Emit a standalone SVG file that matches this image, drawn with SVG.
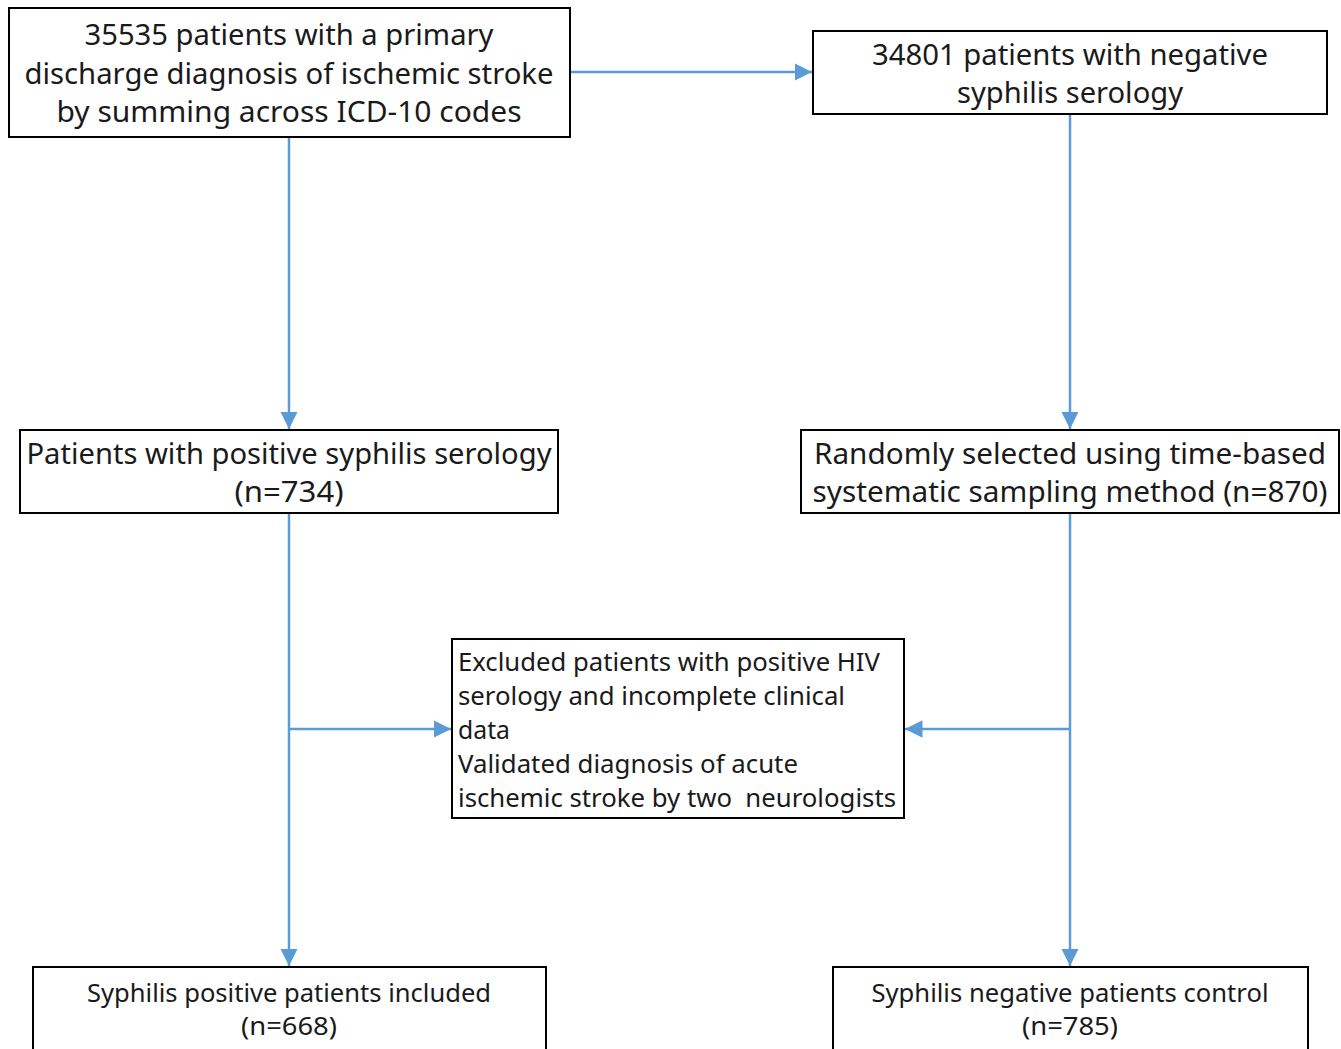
<svg xmlns="http://www.w3.org/2000/svg" width="1341" height="1049" viewBox="0 0 1341 1049">
<style>
.box{fill:#fff;stroke:#000;stroke-width:2}
.t{font-family:"Noto Sans","DejaVu Sans",sans-serif;font-size:29px;fill:#1a1a1a;text-anchor:middle}
.s{font-family:"Noto Sans","DejaVu Sans",sans-serif;font-size:26px;fill:#1a1a1a}
.c{fill:none;stroke:#5B9BD5;stroke-width:2.5}
</style>
<defs>
<marker id="ah" viewBox="0 0 10 10" refX="10" refY="5" markerWidth="7" markerHeight="7" markerUnits="strokeWidth" orient="auto">
<path d="M0,0 L10,5 L0,10 z" fill="#5B9BD5"/>
</marker>
</defs>
<rect width="1341" height="1049" fill="#fff"/>
<g id="connectors">
<path class="c" d="M570,72 H812" marker-end="url(#ah)"/>
<path class="c" d="M289,137 V429" marker-end="url(#ah)"/>
<path class="c" d="M1070,114 V429" marker-end="url(#ah)"/>
<path class="c" d="M289,513 V966" marker-end="url(#ah)"/>
<path class="c" d="M1070,513 V966" marker-end="url(#ah)"/>
<path class="c" d="M289,729 H451" marker-end="url(#ah)"/>
<path class="c" d="M1070,729 H905" marker-end="url(#ah)"/>
</g>
<g id="n1">
<rect class="box" x="9" y="8" width="561" height="129"/>
<text class="t" x="289" y="45" textLength="409" lengthAdjust="spacingAndGlyphs">35535 patients with a primary</text>
<text class="t" x="289" y="84" textLength="529" lengthAdjust="spacingAndGlyphs">discharge diagnosis of ischemic stroke</text>
<text class="t" x="289" y="122" textLength="465" lengthAdjust="spacingAndGlyphs">by summing across ICD-10 codes</text>
</g>
<g id="n2">
<rect class="box" x="813" y="31" width="514" height="83"/>
<text class="t" x="1070" y="65" textLength="396" lengthAdjust="spacingAndGlyphs">34801 patients with negative</text>
<text class="t" x="1070" y="103" textLength="226" lengthAdjust="spacingAndGlyphs">syphilis serology</text>
</g>
<g id="n3">
<rect class="box" x="20" y="430" width="538" height="83"/>
<text class="t" x="289" y="464" textLength="525" lengthAdjust="spacingAndGlyphs">Patients with positive syphilis serology</text>
<text class="t" x="289" y="502" textLength="109" lengthAdjust="spacingAndGlyphs">(n=734)</text>
</g>
<g id="n4">
<rect class="box" x="801" y="430" width="538" height="83"/>
<text class="t" x="1070" y="464" textLength="512" lengthAdjust="spacingAndGlyphs">Randomly selected using time-based</text>
<text class="t" x="1070" y="502" textLength="515" lengthAdjust="spacingAndGlyphs">systematic sampling method (n=870)</text>
</g>
<g id="n5">
<rect class="box" x="452" y="639" width="452" height="179"/>
<text class="s" x="458" y="671" textLength="422" lengthAdjust="spacingAndGlyphs">Excluded patients with positive HIV</text>
<text class="s" x="458" y="705" textLength="387" lengthAdjust="spacingAndGlyphs">serology and incomplete clinical</text>
<text class="s" x="458" y="739" textLength="52" lengthAdjust="spacingAndGlyphs">data</text>
<text class="s" x="458" y="773" textLength="340" lengthAdjust="spacingAndGlyphs">Validated diagnosis of acute</text>
<text class="s" x="458" y="807" textLength="438" lengthAdjust="spacingAndGlyphs" xml:space="preserve">ischemic stroke by two  neurologists</text>
</g>
<g id="n6">
<rect class="box" x="33" y="967" width="513" height="100"/>
<text class="s" x="289" y="1002" text-anchor="middle" textLength="404" lengthAdjust="spacingAndGlyphs">Syphilis positive patients included</text>
<text class="s" x="289" y="1035" text-anchor="middle" textLength="96" lengthAdjust="spacingAndGlyphs">(n=668)</text>
</g>
<g id="n7">
<rect class="box" x="833" y="967" width="475" height="100"/>
<text class="s" x="1070" y="1002" text-anchor="middle" textLength="397" lengthAdjust="spacingAndGlyphs">Syphilis negative patients control</text>
<text class="s" x="1070" y="1035" text-anchor="middle" textLength="96" lengthAdjust="spacingAndGlyphs">(n=785)</text>
</g>
</svg>
